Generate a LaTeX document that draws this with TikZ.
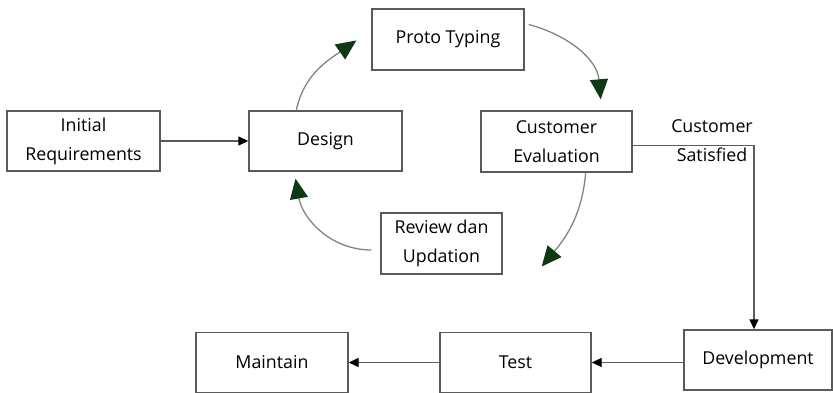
\documentclass[tikz,border=0pt]{standalone}
\usepackage{fontspec}
\setmainfont{Open Sans}
\usepackage{tikz}
\usetikzlibrary{positioning,
                arrows.meta}                % arrow tips

\definecolor{boxgray}{HTML}{5A5A5A}
\definecolor{curvegray}{HTML}{7A8A7A}
\definecolor{tipgreen}{HTML}{0E3A12}

\tikzset{
    stage/.style={draw=boxgray, line width=1.4pt, fill=white, inner sep=0pt,
                  minimum width=153pt, minimum height=60pt, align=center,
                  font=\fontsize{17.8}{29}\selectfont},
    flow/.style={draw=boxgray, line width=1.4pt, -{Triangle[length=10pt,width=9pt,fill=black,color=black]}},
    loop/.style={draw=curvegray, line width=1.3pt, -{Triangle[length=20pt,width=18pt,fill=tipgreen,color=tipgreen]}}
}

\begin{document}
\begin{tikzpicture}[x=1pt, y=-1pt]
        \useasboundingbox[fill=white] (0,0) rectangle (833,393);

        % boxes
        \node[stage] (init) at (83.5,141) {Initial\\Requirements};
        \node[stage] (design) at (325.5,141) {Design};
        \node[stage, minimum width=152pt, minimum height=61pt] (proto) at (448,39.5) {Proto Typing};
        \node[stage, minimum width=151pt, minimum height=61pt] (eval) at (556.5,141.5) {Customer\\Evaluation};
        \node[stage, minimum width=121pt, minimum height=61pt] (review) at (441.5,243.5) {Review dan\\Updation};
        \node[stage, minimum width=148pt] (devel) at (758,360) {Development};
        \node[stage, minimum width=151pt] (test) at (515.5,362.5) {Test};
        \node[stage, minimum width=152pt] (maintain) at (272,362.5) {Maintain};

        \node[align=center, inner sep=0pt, font=\fontsize{17.8}{29}\selectfont] (satisfied) at (712,141) {Customer\\Satisfied};

        % straight flow
        \draw[flow] (init) -- (design);
        \draw[flow] ([yshift=-4pt]eval.east) -| ([xshift=-4pt]devel.north);
        \draw[flow] (devel.west |- test.east) -- (test.east);
        \draw[flow] (test.west) -- (maintain.east);

        % prototyping loop
        \draw[loop] ([xshift=48pt]design.north west) to[out=78, in=215] ([xshift=-15pt, yshift=-1pt]proto.west);
        \draw[loop] ([xshift=4pt, yshift=15pt]proto.east) to[out=-15, in=95] ([xshift=-32pt, yshift=11pt]eval.north east);
        \draw[loop] ([xshift=-47pt]eval.south east) to[out=-95, in=50] ([xshift=39pt, yshift=-23pt]review.east);
        \draw[loop] ([xshift=-9pt, yshift=-6.5pt]review.west) to[out=180, in=-80] ([xshift=-30pt, yshift=-7pt]design.south);

    \end{tikzpicture}
\end{document}
